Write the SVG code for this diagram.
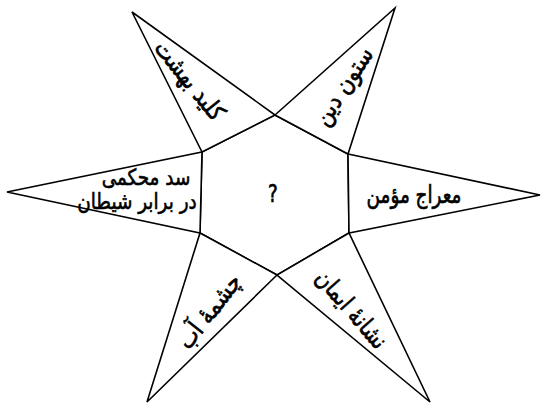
<svg xmlns="http://www.w3.org/2000/svg" width="542" height="403" viewBox="0 0 542 403">
<style>
.t{fill:#fff;stroke:#000;stroke-width:1.6;stroke-linejoin:miter}
.lb{font-family:"DejaVu Sans",sans-serif;font-size:20px;font-weight:normal;fill:#000;stroke:#000;stroke-width:0.55;text-anchor:middle;dominant-baseline:central}
</style>
<rect width="542" height="403" fill="#fff"/>
<g id="connectors">
<polygon class="t" points="202,152 275,115 348,154 349,233 277,275 200,233"/>
</g>
<g id="n-top-left"><polygon class="t" points="132,12 275,115 202,152"/><text class="lb" transform="translate(190,80) rotate(51) scale(1.05,1.22)">کلید بهشت</text></g>
<g id="n-top-right"><polygon class="t" points="395,8 348,154 275,115"/><text class="lb" transform="translate(343,86) rotate(-57) scale(1.05,1.22)">ستون دین</text></g>
<g id="n-right"><polygon class="t" points="540,195 349,233 348,154"/><text class="lb" transform="translate(414,195) scale(0.92,1.22)">معراج مؤمن</text></g>
<g id="n-bottom-right"><polygon class="t" points="430,402 277,275 349,233"/><text class="lb" transform="translate(352,309) rotate(49) scale(1,1.22)">نشانهٔ ایمان</text></g>
<g id="n-bottom-left"><polygon class="t" points="147,402 200,233 277,275"/><text class="lb" transform="translate(209,311) rotate(-52) scale(1.05,1.22)">چشمهٔ آب</text></g>
<g id="n-left"><polygon class="t" points="7,192 202,152 200,233"/><text class="lb" transform="translate(146,177) scale(0.92,1.12)">سد محکمی</text><text class="lb" transform="translate(137,201) scale(0.92,1.12)">در برابر شیطان</text></g>
<g id="n-center"><text class="lb" transform="translate(273,194) scale(0.92,1.22)">?</text></g>
</svg>
